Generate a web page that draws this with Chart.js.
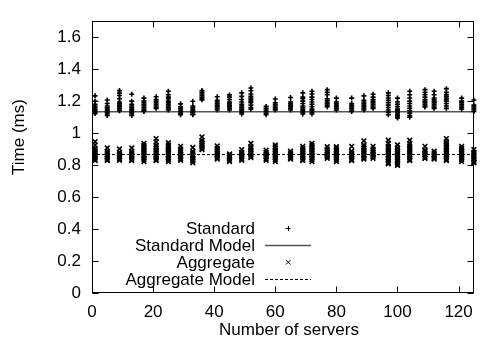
<!DOCTYPE html>
<html>
<head>
<meta charset="utf-8">
<script src="https://cdn.jsdelivr.net/npm/chart.js@4.4.1/dist/chart.umd.min.js"></script>
<style>
  body { margin: 0; background: #fff; }
  #wrap { width: 482px; height: 345px; }
</style>
</head>
<body>
<div id="wrap"><canvas id="graph" width="482" height="345"></canvas></div>
<script>
// server counts where measurements were taken
const servers = [1, 5, 9, 13, 17, 21, 25, 29, 33, 36, 41, 45, 49, 52, 57, 60,
                 65, 69, 72, 77, 80, 85, 89, 92, 97, 100, 104, 109, 112, 116, 121, 125];

// measured times (ms) per server count
const standard = [
  [1.233, 1.200, 1.180, 1.170, 1.160, 1.150, 1.140, 1.130, 1.122],
  [1.207, 1.185, 1.170, 1.160, 1.150, 1.140, 1.130, 1.120, 1.110],
  [1.266, 1.250, 1.235, 1.215, 1.195, 1.185, 1.175, 1.165, 1.155, 1.145, 1.140],
  [1.243, 1.200, 1.180, 1.170, 1.160, 1.150, 1.140, 1.130, 1.120, 1.110],
  [1.219, 1.200, 1.190, 1.180, 1.170, 1.160, 1.150, 1.140, 1.135],
  [1.227, 1.210, 1.200, 1.190, 1.180, 1.170, 1.160, 1.155],
  [1.262, 1.240, 1.225, 1.215, 1.200, 1.190, 1.180, 1.170, 1.160, 1.150, 1.145],
  [1.183, 1.165, 1.155, 1.145, 1.135, 1.125, 1.115],
  [1.199, 1.170, 1.160, 1.150, 1.140, 1.130, 1.120, 1.115],
  [1.266, 1.255, 1.245, 1.235, 1.225, 1.215, 1.208],
  [1.227, 1.205, 1.195, 1.185, 1.175, 1.165, 1.155, 1.145],
  [1.239, 1.225, 1.210, 1.195, 1.185, 1.175, 1.165, 1.155, 1.145],
  [1.252, 1.230, 1.210, 1.195, 1.180, 1.170, 1.160, 1.150, 1.140, 1.130, 1.120],
  [1.282, 1.265, 1.245, 1.230, 1.220, 1.210, 1.200, 1.190, 1.175, 1.160, 1.150],
  [1.167, 1.155, 1.145, 1.135, 1.125, 1.115],
  [1.213, 1.190, 1.180, 1.170, 1.160, 1.150, 1.145],
  [1.223, 1.195, 1.185, 1.175, 1.165, 1.155, 1.145],
  [1.252, 1.225, 1.215, 1.200, 1.185, 1.170, 1.160, 1.150, 1.140, 1.130, 1.120],
  [1.262, 1.245, 1.225, 1.210, 1.195, 1.180, 1.165, 1.150, 1.140, 1.130, 1.120],
  [1.272, 1.255, 1.240, 1.215, 1.205, 1.195, 1.185, 1.175, 1.165],
  [1.219, 1.195, 1.185, 1.175, 1.165, 1.155, 1.145],
  [1.219, 1.185, 1.175, 1.165, 1.155, 1.145, 1.135],
  [1.233, 1.205, 1.195, 1.185, 1.175, 1.165, 1.155, 1.145],
  [1.243, 1.225, 1.210, 1.200, 1.190, 1.180, 1.170, 1.160, 1.155],
  [1.252, 1.235, 1.220, 1.205, 1.190, 1.175, 1.160, 1.145, 1.130, 1.115],
  [1.219, 1.195, 1.180, 1.165, 1.150, 1.140, 1.130, 1.120, 1.110, 1.100, 1.095],
  [1.262, 1.240, 1.220, 1.200, 1.185, 1.170, 1.155, 1.140, 1.125, 1.110, 1.100],
  [1.272, 1.255, 1.240, 1.225, 1.210, 1.200, 1.190, 1.180, 1.170, 1.163],
  [1.262, 1.240, 1.220, 1.210, 1.200, 1.190, 1.180, 1.170, 1.160, 1.155],
  [1.278, 1.255, 1.240, 1.230, 1.220, 1.210, 1.200, 1.185, 1.170, 1.155],
  [1.219, 1.200, 1.190, 1.180, 1.170, 1.160, 1.150],
  [1.207, 1.175, 1.165, 1.155, 1.145, 1.135]
];

const aggregate = [
  [0.946, 0.925, 0.905, 0.895, 0.885, 0.875, 0.865, 0.855, 0.845, 0.835, 0.828],
  [0.907, 0.885, 0.875, 0.865, 0.855, 0.845, 0.835, 0.828],
  [0.901, 0.880, 0.870, 0.860, 0.850, 0.840, 0.830],
  [0.907, 0.885, 0.875, 0.865, 0.855, 0.845, 0.835, 0.828],
  [0.936, 0.925, 0.915, 0.905, 0.895, 0.885, 0.875, 0.865, 0.855, 0.845, 0.835, 0.822],
  [0.966, 0.945, 0.925, 0.915, 0.905, 0.895, 0.885, 0.875, 0.865, 0.855, 0.845, 0.835, 0.828],
  [0.940, 0.925, 0.915, 0.905, 0.895, 0.885, 0.875, 0.865, 0.855, 0.845, 0.835, 0.822],
  [0.917, 0.900, 0.890, 0.880, 0.870, 0.860, 0.850, 0.840, 0.830],
  [0.910, 0.885, 0.875, 0.865, 0.855, 0.845, 0.835, 0.825, 0.814],
  [0.976, 0.955, 0.945, 0.935, 0.925, 0.915, 0.905, 0.897],
  [0.920, 0.905, 0.895, 0.885, 0.875, 0.865, 0.855, 0.845, 0.838],
  [0.870, 0.860, 0.850, 0.840, 0.830, 0.822],
  [0.897, 0.880, 0.870, 0.860, 0.850, 0.840, 0.830],
  [0.936, 0.915, 0.905, 0.895, 0.885, 0.875, 0.865, 0.855, 0.847],
  [0.893, 0.880, 0.870, 0.860, 0.850, 0.840, 0.830],
  [0.926, 0.915, 0.905, 0.895, 0.885, 0.875, 0.865, 0.855, 0.845, 0.835, 0.822],
  [0.887, 0.875, 0.865, 0.855, 0.845, 0.838],
  [0.917, 0.905, 0.895, 0.885, 0.875, 0.865, 0.855, 0.845, 0.835, 0.828],
  [0.936, 0.925, 0.915, 0.905, 0.895, 0.885, 0.875, 0.865, 0.855, 0.845, 0.835, 0.822],
  [0.915, 0.900, 0.890, 0.880, 0.870, 0.860, 0.850, 0.842],
  [0.915, 0.905, 0.895, 0.885, 0.875, 0.865, 0.855, 0.845, 0.835, 0.822],
  [0.917, 0.887, 0.875, 0.865, 0.855, 0.845, 0.835, 0.828],
  [0.952, 0.926, 0.915, 0.905, 0.895, 0.885, 0.875, 0.865, 0.855, 0.845, 0.838],
  [0.917, 0.900, 0.890, 0.880, 0.870, 0.860, 0.850, 0.842],
  [0.956, 0.935, 0.917, 0.905, 0.895, 0.885, 0.875, 0.865, 0.855, 0.845, 0.835, 0.825, 0.815, 0.808],
  [0.926, 0.907, 0.895, 0.885, 0.875, 0.865, 0.855, 0.845, 0.835, 0.825, 0.815, 0.805, 0.798],
  [0.956, 0.935, 0.920, 0.905, 0.895, 0.885, 0.875, 0.865, 0.855, 0.845, 0.835, 0.828],
  [0.917, 0.895, 0.885, 0.875, 0.865, 0.855, 0.845, 0.842],
  [0.887, 0.875, 0.865, 0.855, 0.845, 0.838],
  [0.966, 0.946, 0.935, 0.925, 0.915, 0.905, 0.895, 0.885, 0.875, 0.865, 0.855, 0.845, 0.835, 0.828],
  [0.917, 0.905, 0.895, 0.885, 0.875, 0.865, 0.855, 0.845, 0.835, 0.822],
  [0.897, 0.880, 0.870, 0.860, 0.850, 0.840, 0.830, 0.820, 0.814]
];

// model lines
const modelX = [0, 125];
const standardModel = [1.134, 1.134];
const aggregateModel = [0.866, 0.866];

const FONT = "'Liberation Sans', Arial, Helvetica, sans-serif";

function toPoints(xs, groups) {
    let pts = [];
    xs.forEach((x, i) => groups[i].forEach(y => pts.push({x: x, y: y})));
    return pts;
}

// gnuplot style box, inward ticks, key and axis titles
const gnuplotFrame = {
    id: 'gnuplotFrame',
    afterDraw(chart) {
        const ctx = chart.ctx;
        const a = chart.chartArea;
        const xs = chart.scales.x;
        const ys = chart.scales.y;
        const L = Math.round(a.left) + 0.5, R = Math.round(a.right) - 0.5;
        const T = Math.round(a.top) + 0.5, B = Math.round(a.bottom) - 0.5;
        ctx.save();
        ctx.strokeStyle = '#000';
        ctx.lineWidth = 1;
        ctx.strokeRect(L, T, R - L, B - T);
        ctx.beginPath();
        xs.ticks.forEach(t => {
            const px = Math.round(xs.getPixelForValue(t.value)) + 0.5;
            ctx.moveTo(px, B); ctx.lineTo(px, B - 6);
            ctx.moveTo(px, T); ctx.lineTo(px, T + 6);
        });
        ys.ticks.forEach(t => {
            const py = Math.round(ys.getPixelForValue(t.value)) + 0.5;
            ctx.moveTo(L, py); ctx.lineTo(L + 6, py);
            ctx.moveTo(R, py); ctx.lineTo(R - 6, py);
        });
        ctx.stroke();

        // key
        ctx.font = '17px ' + FONT;
        ctx.fillStyle = '#000';
        ctx.textAlign = 'right';
        ctx.textBaseline = 'middle';
        const textX = 255, s0 = 265, s1 = 311, sc = 288;
        const rows = [228, 245, 262, 279];
        chart.data.datasets.forEach((ds, i) => {
            const y = rows[i];
            ctx.fillText(ds.label, textX, y + 1);
            ctx.beginPath();
            ctx.strokeStyle = ds.borderColor;
            ctx.lineWidth = 1;
            if (ds.showLine) {
                ctx.lineWidth = ds.borderWidth;
                ctx.setLineDash(ds.borderDash || []);
                ctx.moveTo(s0, y + 0.5); ctx.lineTo(s1, y + 0.5);
            } else if (ds.pointStyle === 'cross') {
                ctx.moveTo(sc - 2.5, y + 0.5); ctx.lineTo(sc + 2.5, y + 0.5);
                ctx.moveTo(sc + 0.5, y - 2); ctx.lineTo(sc + 0.5, y + 3);
            } else {
                ctx.moveTo(sc - 2, y - 2); ctx.lineTo(sc + 2.5, y + 2.5);
                ctx.moveTo(sc + 2.5, y - 2); ctx.lineTo(sc - 2, y + 2.5);
            }
            ctx.stroke();
            ctx.setLineDash([]);
        });

        // axis titles
        ctx.textAlign = 'center';
        ctx.fillText('Number of servers', 289, 330);
        ctx.translate(19, 137);
        ctx.rotate(-Math.PI / 2);
        ctx.fillText('Time (ms)', 0, 0);
        ctx.restore();
    }
};

Chart.defaults.font.family = FONT;
Chart.defaults.font.size = 17;
Chart.defaults.color = '#000';

const ctx = document.getElementById('graph').getContext('2d');
const chart = new Chart(ctx, {
    type: 'scatter',
    data: {
        datasets: [
            {
                label: 'Standard',
                data: toPoints(servers, standard),
                pointStyle: 'cross',
                pointRadius: 2.5,
                borderColor: '#000',
                borderWidth: 1.6,
                showLine: false,
                clip: false
            },
            {
                label: 'Standard Model',
                data: modelX.map((x, i) => ({x: x, y: standardModel[i]})),
                showLine: true,
                borderColor: '#555',
                borderWidth: 1.5,
                pointRadius: 0
            },
            {
                label: 'Aggregate',
                data: toPoints(servers, aggregate),
                pointStyle: 'crossRot',
                pointRadius: 3.3,
                borderColor: '#000',
                borderWidth: 1.6,
                showLine: false,
                clip: false
            },
            {
                label: 'Aggregate Model',
                data: modelX.map((x, i) => ({x: x, y: aggregateModel[i]})),
                showLine: true,
                borderColor: '#000',
                borderWidth: 1,
                borderDash: [3, 2],
                pointRadius: 0
            }
        ]
    },
    options: {
        responsive: false,
        animation: false,
        layout: { padding: { left: 0, top: 6, right: 4, bottom: 0 } },
        plugins: {
            legend: { display: false },
            tooltip: { enabled: false }
        },
        scales: {
            x: {
                type: 'linear',
                min: 0,
                max: 125,
                grid: { display: false, drawTicks: false },
                border: { display: false },
                ticks: { stepSize: 20, includeBounds: false, padding: 9, maxRotation: 0 },
                afterFit(scale) { scale.height = 52; }
            },
            y: {
                min: 0,
                max: 1.7,
                grid: { display: false, drawTicks: false },
                border: { display: false },
                ticks: {
                    stepSize: 0.2,
                    includeBounds: false,
                    padding: 11,
                    callback: v => String(Number(v.toFixed(1)))
                },
                afterFit(scale) { scale.width = 92; }
            }
        }
    },
    plugins: [gnuplotFrame]
});
</script>
</body>
</html>
